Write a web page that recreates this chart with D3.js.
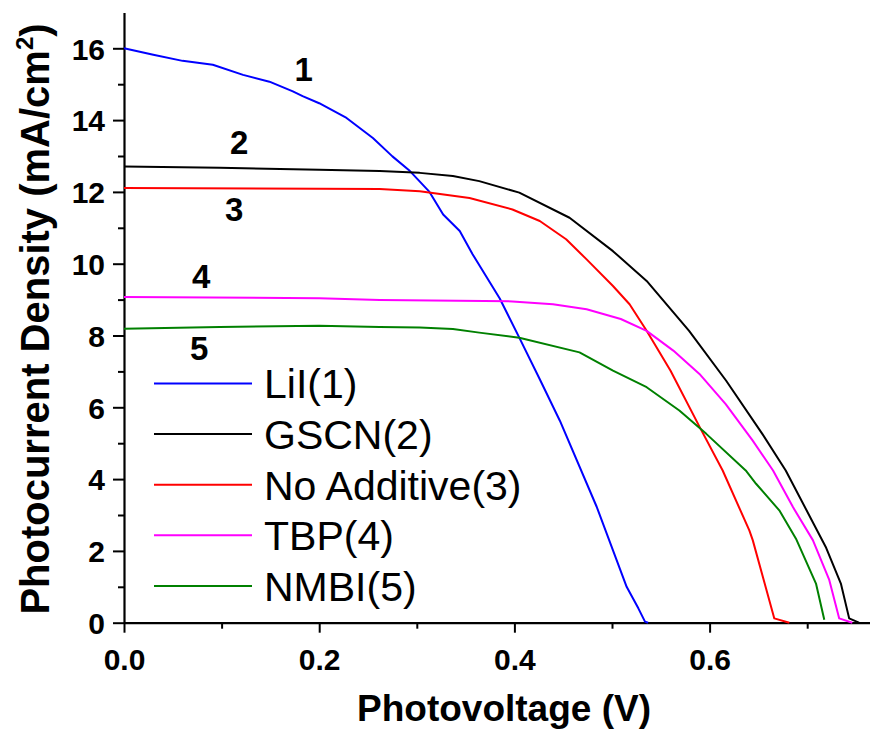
<!DOCTYPE html>
<html lang="en">
<head>
<meta charset="utf-8">
<script src="https://d3js.org/d3.v7.min.js"></script>
<style>
  body { margin: 0; background: #fff; }
  text { font-family: Arial, "Liberation Sans", sans-serif; }
</style>
</head>
<body>

<svg width="870" height="731"></svg>

<script>

// photocurrent-photovoltage data, [V, mA/cm2]
var lii = [[0,16.0],[0.03,15.82],[0.06,15.65],[0.091,15.54],[0.122,15.26],[0.149,15.07],[0.173,14.8],[0.183,14.67],[0.2,14.47],[0.228,14.06],[0.255,13.5],[0.275,12.99],[0.293,12.58],[0.313,12.0],[0.327,11.37],[0.344,10.91],[0.357,10.27],[0.385,9.03],[0.405,7.94],[0.426,6.78],[0.4467,5.62],[0.4843,3.23],[0.515,1.0],[0.527,0.4],[0.5338,0.03],[0.537,0]];
var gscn = [[0,12.71],[0.098,12.67],[0.2,12.62],[0.262,12.58],[0.303,12.53],[0.337,12.44],[0.364,12.3],[0.405,11.98],[0.4565,11.28],[0.501,10.35],[0.5355,9.52],[0.579,8.13],[0.617,6.74],[0.654,5.26],[0.678,4.24],[0.719,2.11],[0.7345,1.09],[0.743,0.12],[0.753,0]];
var noAdditive = [[0,12.11],[0.2,12.09],[0.262,12.08],[0.303,12.02],[0.354,11.83],[0.398,11.51],[0.426,11.19],[0.453,10.68],[0.474,10.12],[0.501,9.38],[0.518,8.87],[0.5355,8.13],[0.56,7.02],[0.59,5.44],[0.6134,4.24],[0.6407,2.57],[0.6442,2.3],[0.6663,0.12],[0.6817,0]];
var tbp = [[0,9.07],[0.2,9.04],[0.262,8.99],[0.398,8.95],[0.4395,8.87],[0.474,8.73],[0.509,8.46],[0.5355,8.13],[0.5628,7.58],[0.5896,6.93],[0.6165,6.09],[0.644,5.08],[0.665,4.24],[0.6854,3.22],[0.7058,2.3],[0.7226,1.19],[0.7328,0.12],[0.7462,0]];
var nmbi = [[0,8.19],[0.098,8.24],[0.2,8.27],[0.262,8.24],[0.303,8.22],[0.337,8.18],[0.364,8.08],[0.405,7.94],[0.4667,7.53],[0.501,7.02],[0.5355,6.56],[0.569,5.91],[0.5966,5.26],[0.637,4.24],[0.6476,3.87],[0.6714,3.13],[0.6885,2.34],[0.709,1.09],[0.7175,0.08]];

var seriesNames = ["LiI(1)", "GSCN(2)", "No Additive(3)", "TBP(4)", "NMBI(5)"];
var seriesColors = ["#0000ff", "#000000", "#ff0000", "#ff00ff", "#008000"];
var curveLabels = ["1", "2", "3", "4", "5"];
// where each number label sits, [V, mA/cm2]
var labelPos = [[0.184,15.1], [0.118,13.05], [0.113,11.2], [0.079,9.33], [0.077,7.32]];

var xTicks = [0, 0.2, 0.4, 0.6];
var xMinor = [0.1, 0.3, 0.5, 0.7];
var yTicks = [0, 2, 4, 6, 8, 10, 12, 14, 16];
var yMinor = [1, 3, 5, 7, 9, 11, 13, 15];

var svg = d3.select("svg"),
	x0 = 124, y0 = 622.7;

var x = d3.scaleLinear()
	.domain([0, (870 - x0) / 976])
	.range([x0, 870]);

var y = d3.scaleLinear()
	.domain([0, 17])
	.range([y0, y0 - 17 * 35.9]);

// minor ticks first, then main axes on top
svg.append("g")
	.attr("transform", "translate(0," + y0 + ")")
	.call(d3.axisBottom(x).tickValues(xMinor).tickSize(6).tickFormat(""))
	.call(function (g) { g.select(".domain").remove(); });

svg.append("g")
	.attr("transform", "translate(" + x0 + ",0)")
	.call(d3.axisLeft(y).tickValues(yMinor).tickSize(6).tickFormat(""))
	.call(function (g) { g.select(".domain").remove(); });

var xAxis = svg.append("g")
	.attr("transform", "translate(0," + y0 + ")")
	.call(d3.axisBottom(x).tickValues(xTicks).tickSize(10).tickSizeOuter(0).tickPadding(16)
		.tickFormat(d3.format(".1f")));

var yAxis = svg.append("g")
	.attr("transform", "translate(" + x0 + ",0)")
	.call(d3.axisLeft(y).tickValues(yTicks).tickSize(11).tickSizeOuter(0).tickPadding(8)
		.tickFormat(d3.format("d")));

svg.selectAll(".tick line").attr("stroke", "#000").attr("stroke-width", 2);
svg.selectAll(".domain").attr("stroke", "#000").attr("stroke-width", 2.2);
svg.selectAll(".tick text")
	.attr("fill", "#000")
	.attr("font-size", 30)
	.attr("font-weight", "bold")
	.attr("font-family", "Arial, 'Liberation Sans', sans-serif");
yAxis.selectAll(".tick text").attr("dy", "0.36em");
xAxis.selectAll(".tick text").attr("dy", "0.71em");

// curves
var line = d3.line()
	.x(function (d) { return x(d[0]); })
	.y(function (d) { return y(d[1]); });

var allSeries = [lii, gscn, noAdditive, tbp, nmbi];

svg.selectAll(".curve")
	.data(allSeries)
	.enter().append("path")
	.attr("class", "curve")
	.attr("d", line)
	.attr("fill", "none")
	.attr("stroke", function (d, i) { return seriesColors[i]; })
	.attr("stroke-width", 2)
	.attr("stroke-linejoin", "round");

// numbers beside the curves
svg.selectAll(".num")
	.data(curveLabels)
	.enter().append("text")
	.attr("class", "num")
	.attr("x", function (d, i) { return x(labelPos[i][0]); })
	.attr("y", function (d, i) { return y(labelPos[i][1]); })
	.attr("text-anchor", "middle")
	.attr("font-size", 33)
	.attr("font-weight", "bold")
	.text(function (d) { return d; });

// legend
var legend = svg.append("g").attr("transform", "translate(154,383.5)");

legend.selectAll("line")
	.data(seriesNames)
	.enter().append("line")
	.attr("x1", 0)
	.attr("x2", 98)
	.attr("y1", function (d, i) { return i * 50.6; })
	.attr("y2", function (d, i) { return i * 50.6; })
	.attr("stroke", function (d, i) { return seriesColors[i]; })
	.attr("stroke-width", 2);

legend.selectAll("text")
	.data(seriesNames)
	.enter().append("text")
	.attr("x", 110)
	.attr("y", function (d, i) { return i * 50.6 + 14.8; })
	.attr("font-size", 41)
	.attr("fill", "#000")
	.text(function (d) { return d; });

// axis titles
svg.append("text")
	.attr("x", 504)
	.attr("y", 721)
	.attr("text-anchor", "middle")
	.attr("font-size", 37)
	.attr("font-weight", "bold")
	.text("Photovoltage (V)");

var yTitle = svg.append("text")
	.attr("transform", "translate(49,319) rotate(-90)")
	.attr("text-anchor", "middle")
	.attr("font-size", 40)
	.attr("font-weight", "bold");
yTitle.append("tspan").text("Photocurrent Density (mA/cm");
yTitle.append("tspan").attr("font-size", 24).attr("dy", -16).text("2");
yTitle.append("tspan").attr("dy", 16).text(")");

</script>

</body>
</html>
